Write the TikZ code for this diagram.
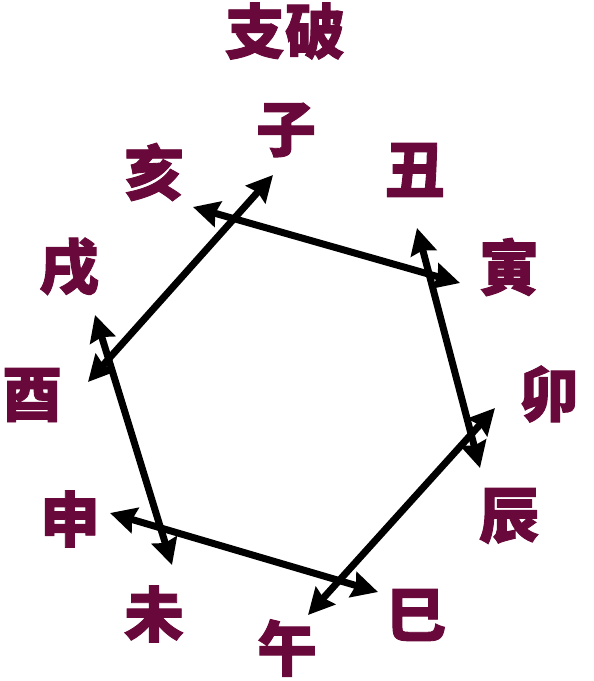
\documentclass[tikz,border=0pt]{standalone}
\usepackage{fontspec}
\usetikzlibrary{arrows.meta}
\newfontfamily\cjk{Noto Sans CJK SC}[BoldFeatures={FakeBold=1.5}]
\definecolor{zhired}{RGB}{105,8,58}

\begin{document}
\begin{tikzpicture}[x=0.5pt,y=-0.5pt]
            \tikzset{zhi/.style={text=zhired,inner sep=0pt,font=\cjk\bfseries\fontsize{30}{30}\selectfont},
                     po/.style={line width=3.5pt,{Stealth[length=13pt,width=13pt,inset=1.5pt]}-{Stealth[length=13pt,width=13pt,inset=1.5pt]}}}
            \useasboundingbox (0,0) rectangle (594,681);
            \node [zhi] (title) at (285,31) {支破};
            \foreach \n/\x/\y/\t in {zi/286/130/子, chou/415/170/丑, yin/509/267/寅, mao/549/394/卯,
                    chen/509/516/辰, si/416/615/巳, wu/287/648/午, wei/154/614/未,
                    shen/70/519/申, you/32/395/酉, xu/69/267/戌, hai/154/172/亥}
                \node [zhi] (\n) at (\x,\y) {\t};
            % ends of the arrows
            \coordinate (zi-e) at (273,175);   \coordinate (you-e) at (88,382);
            \coordinate (hai-e) at (193,207);  \coordinate (yin-e) at (460,283);
            \coordinate (chou-e) at (417,228); \coordinate (chen-e) at (480,468);
            \coordinate (mao-e) at (495,408);  \coordinate (wu-e) at (308,615);
            \coordinate (si-e) at (378,592);   \coordinate (shen-e) at (110,513);
            \coordinate (xu-e) at (95,315);    \coordinate (wei-e) at (172,565);
            \draw [po] (zi-e) -- (you-e);
            \draw [po] (hai-e) -- (yin-e);
            \draw [po] (chou-e) -- (chen-e);
            \draw [po] (mao-e) -- (wu-e);
            \draw [po] (si-e) -- (shen-e);
            \draw [po] (xu-e) -- (wei-e);
        \end{tikzpicture}
\end{document}
